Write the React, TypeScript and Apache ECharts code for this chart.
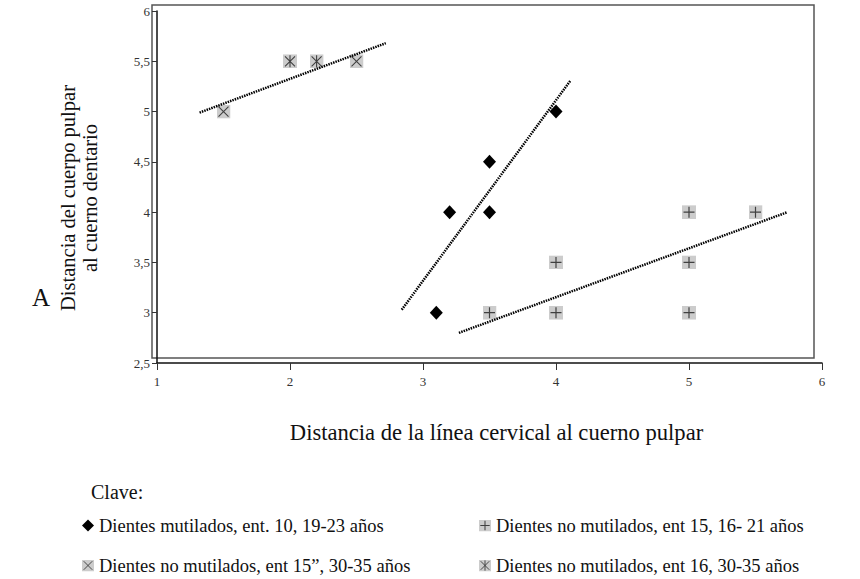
import React, { useEffect, useRef } from "react";
import * as echarts from "echarts";

// Series names
const S_MUT = "Dientes mutilados, ent. 10, 19-23 años";
const S_NM15 = "Dientes no mutilados, ent 15, 16- 21 años";
const S_NM15B = "Dientes no mutilados, ent 15”, 30-35 años";
const S_NM16 = "Dientes no mutilados, ent 16, 30-35 años";

// Data points [x, y]
const mutilados: number[][] = [[3.1, 3], [3.2, 4], [3.5, 4], [3.5, 4.5], [4, 5]];
const noMut15: number[][] = [[3.5, 3], [4, 3], [4, 3.5], [5, 3], [5, 3.5], [5, 4], [5.5, 4]];
const noMut15b: number[][] = [[1.5, 5], [2.5, 5.5]];
const noMut16: number[][] = [[2, 5.5], [2.2, 5.5]];

// Trend line endpoints
const trendMut: number[][] = [[2.84, 3.03], [4.11, 5.31]];
const trendNM15: number[][] = [[3.27, 2.8], [5.74, 4.0]];
const trendTop: number[][] = [[1.32, 4.99], [2.72, 5.68]];

// Axes
const X_MIN = 1, X_MAX = 6, X_INT = 1;
const Y_MIN = 2.5, Y_MAX = 6, Y_INT = 0.5;

const FONT = "'Liberation Serif', 'DejaVu Serif', serif";

const svgIcon = (inner: string) =>
  "image://data:image/svg+xml;charset=utf-8," +
  encodeURIComponent(
    `<svg xmlns='http://www.w3.org/2000/svg' width='28' height='28' viewBox='0 0 14 14'><rect width='14' height='14' fill='#c0c0c0'/>${inner}</svg>`
  );
const PLUS_ICON = svgIcon("<path d='M7 1.5V12.5M1.5 7H12.5' stroke='#111' stroke-width='1.2' fill='none'/>");
const XBOX_ICON = svgIcon("<path d='M2 2L12 12M12 2L2 12' stroke='#111' stroke-width='1.1' fill='none'/>");
const STAR_ICON = svgIcon("<path d='M2 2L12 12M12 2L2 12M7 1V13' stroke='#111' stroke-width='1.1' fill='none'/>");

export default function App() {
  const ref = useRef<HTMLDivElement>(null);
  useEffect(() => {
    if (!ref.current) return;
    const chart = echarts.init(ref.current, null, { renderer: "svg" });
    const comma = (v: number) => String(v).replace(".", ",");
    const trendStyle = { color: "#000", width: 2.5, type: [1.5, 1] as any };
    const legendBase = {
      orient: "horizontal",
      padding: 0,
      itemWidth: 12,
      itemHeight: 12,
      textStyle: { fontFamily: FONT, fontSize: 18.5, color: "#111" },
      selectedMode: false,
    };
    chart.setOption({
      animation: false,
      backgroundColor: "#fff",
      textStyle: { fontFamily: FONT },
      grid: { left: 157, right: 38, top: 11, bottom: 216 },
      xAxis: {
        type: "value",
        min: X_MIN,
        max: X_MAX,
        interval: X_INT,
        splitLine: { show: false },
        axisLine: { lineStyle: { color: "#111", width: 1.5 } },
        axisTick: { length: 7, lineStyle: { color: "#333" } },
        axisLabel: { fontFamily: FONT, fontSize: 13, color: "#333", margin: 12, formatter: comma },
        name: "Distancia de la línea cervical al cuerno pulpar",
        nameLocation: "middle",
        nameGap: 58,
        nameTextStyle: { fontFamily: FONT, fontSize: 22.6, color: "#111", padding: [0, 0, 0, 14] },
      },
      yAxis: {
        type: "value",
        min: Y_MIN,
        max: Y_MAX,
        interval: Y_INT,
        splitLine: { show: false },
        axisLine: { onZero: false, lineStyle: { color: "#111", width: 1.5 } },
        axisTick: { length: 5, lineStyle: { color: "#333" } },
        axisLabel: { fontFamily: FONT, fontSize: 13, color: "#333", margin: 7, formatter: comma },
        name: "Distancia del cuerpo pulpar\nal cuerno dentario",
        nameLocation: "middle",
        nameGap: 56,
        nameTextStyle: { fontFamily: FONT, fontSize: 20.5, color: "#111", lineHeight: 22, padding: [0, 22, 0, 0] },
      },
      legend: [
        { ...legendBase, data: [S_MUT], left: 82, top: 516 },
        { ...legendBase, data: [S_NM15], left: 479, top: 516 },
        { ...legendBase, data: [S_NM15B], left: 82, top: 556 },
        { ...legendBase, data: [S_NM16], left: 479, top: 556 },
      ],
      graphic: [
        {
          type: "rect",
          shape: { x: 152, y: 5, width: 662, height: 353 },
          style: { fill: "none", stroke: "#555", lineWidth: 1.5 },
          z: 0,
          silent: true,
        },
        {
          type: "text",
          left: 32,
          top: 285,
          style: { text: "A", font: `25px ${FONT}`, fill: "#111" },
        },
        {
          type: "text",
          left: 91,
          top: 482,
          style: { text: "Clave:", font: `20px ${FONT}`, fill: "#111" },
        },
      ],
      series: [
        {
          name: S_MUT,
          type: "scatter",
          data: mutilados,
          symbol: "diamond",
          symbolSize: [13, 14],
          itemStyle: { color: "#000", opacity: 1 },
          z: 3,
        },
        {
          name: S_NM15,
          type: "scatter",
          data: noMut15,
          symbol: PLUS_ICON,
          symbolSize: 14,
          z: 3,
        },
        {
          name: S_NM15B,
          type: "scatter",
          data: noMut15b,
          symbol: XBOX_ICON,
          symbolSize: 14,
          z: 3,
        },
        {
          name: S_NM16,
          type: "scatter",
          data: noMut16,
          symbol: STAR_ICON,
          symbolSize: 14,
          z: 3,
        },
        { type: "line", data: trendMut, showSymbol: false, symbol: "none", lineStyle: trendStyle, z: 4, silent: true },
        { type: "line", data: trendNM15, showSymbol: false, symbol: "none", lineStyle: trendStyle, z: 4, silent: true },
        { type: "line", data: trendTop, showSymbol: false, symbol: "none", lineStyle: trendStyle, z: 4, silent: true },
      ],
    });
    return () => chart.dispose();
  }, []);
  return (
    <div
      ref={ref}
      style={{ position: "absolute", left: 0, top: 0, width: 860, height: 579 }}
    />
  );
}
